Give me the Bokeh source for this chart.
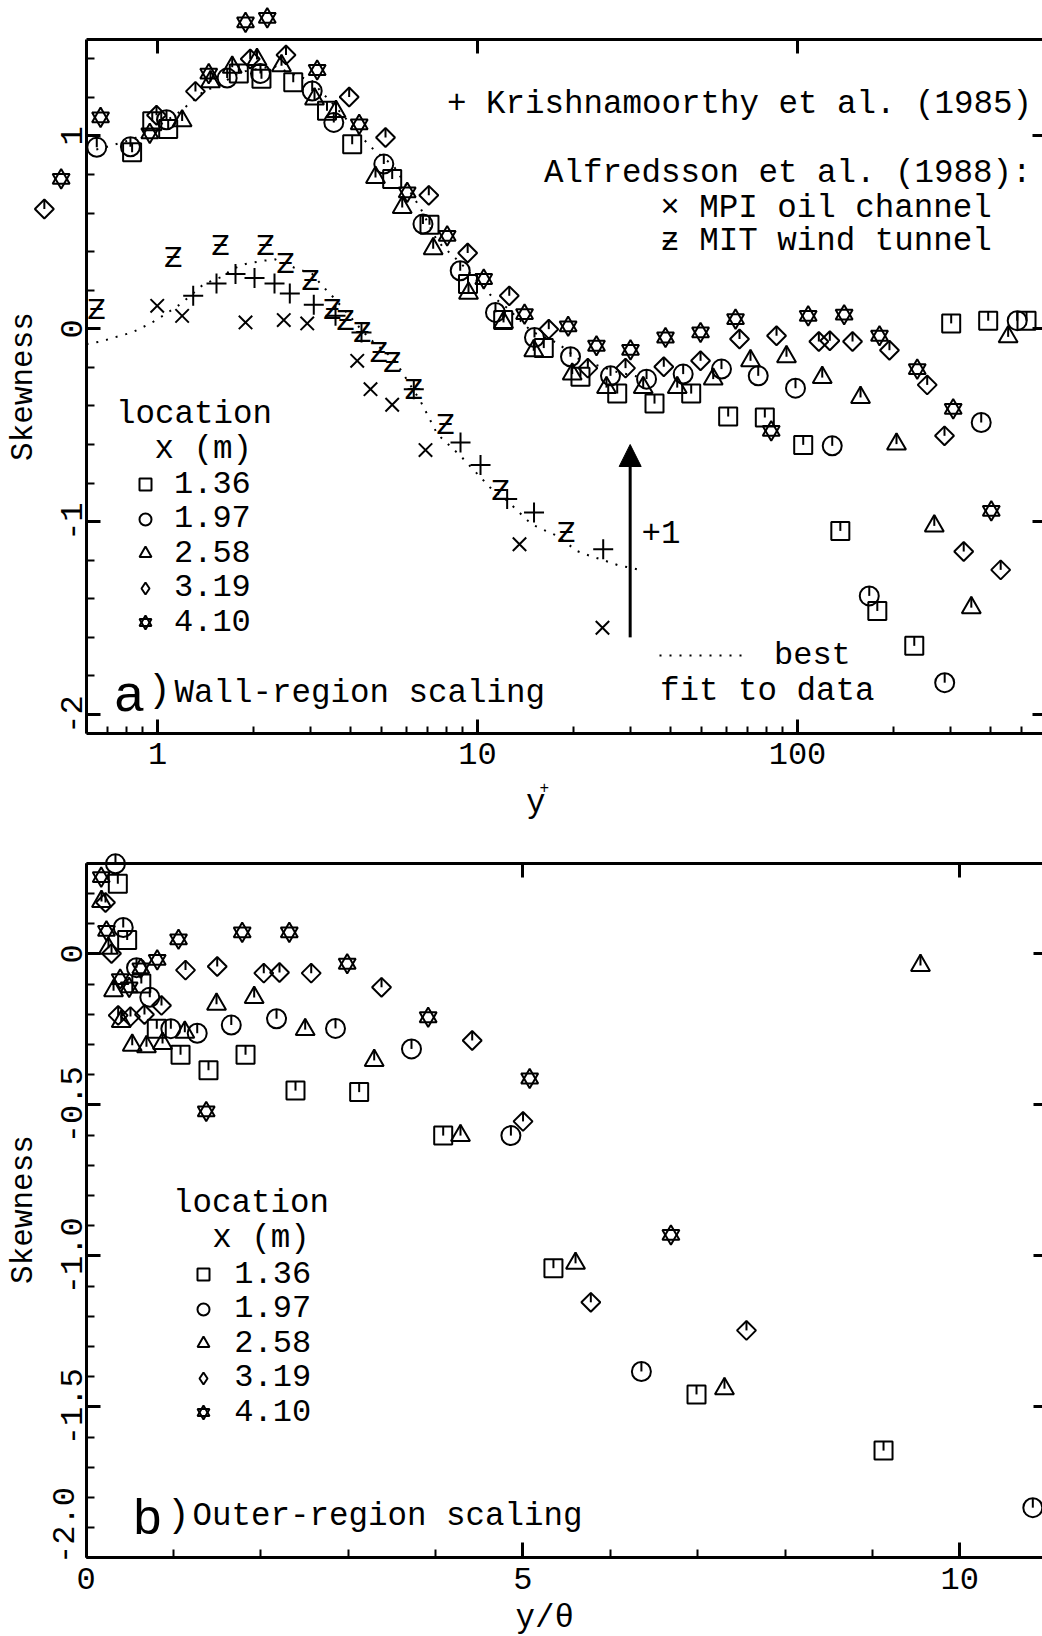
import math
from bokeh.plotting import figure
from bokeh.models import (Range1d, LinearAxis, FixedTicker, Label, Legend,
                          LegendItem, Arrow, NormalHead)
from bokeh.layouts import column
from bokeh.embed import file_html
from bokeh.resources import INLINE
from bokeh.core.properties import value

# ---------------- data: panel a) wall-region scaling (y+) ----------------
sq_yp = [0.833, 0.963, 1.08, 1.795, 2.113, 2.656, 3.386, 4.059, 5.413, 7.079, 9.34, 12.03, 16.11,
         20.98, 27.33, 35.74, 46.54, 60.73, 79.05, 104.2, 136.1, 177.6, 231.7, 302.2, 394.4, 519.6]
sq_sk = [0.915, 1.076, 1.036, 1.324, 1.297, 1.278, 1.131, 0.957, 0.777, 0.540, 0.232, 0.045, -0.100,
         -0.249, -0.336, -0.388, -0.336, -0.455, -0.460, -0.602, -1.048, -1.463, -1.644, 0.028, 0.042, 0.042]

ci_yp = [0.646, 0.823, 1.067, 1.651, 2.098, 3.044, 3.556, 5.096, 6.755, 8.831, 11.38, 15.07, 19.53,
         26.04, 33.75, 43.93, 57.87, 75.39, 98.57, 128.4, 167.6, 288.4, 375.1, 486.0]
ci_sk = [0.941, 0.944, 1.084, 1.300, 1.324, 1.233, 1.070, 0.854, 0.543, 0.301, 0.085, -0.045, -0.145,
         -0.244, -0.261, -0.235, -0.209, -0.244, -0.308, -0.607, -1.385, -1.835, -0.486, 0.042]

tr_yp = [1.194, 1.464, 1.712, 2.046, 2.441, 3.095, 3.613, 4.80, 5.818, 7.27, 9.374, 12.06, 14.99,
         19.77, 25.3, 32.95, 42.09, 54.53, 71.31, 92.39, 119.5, 157.4, 203.9, 267.6, 349.3, 455.3]
tr_sk = [1.078, 1.281, 1.356, 1.396, 1.364, 1.192, 1.127, 0.785, 0.629, 0.415, 0.184, 0.033, -0.114,
         -0.235, -0.305, -0.305, -0.305, -0.261, -0.166, -0.145, -0.253, -0.356, -0.598, -1.022, -1.446, -0.042]

di_yp = [0.443, 0.993, 1.314, 1.949, 2.521, 3.972, 5.159, 7.044, 9.318, 12.57, 16.7, 22.12, 29.01,
         38.21, 49.78, 65.89, 86.0, 116.6, 126.2, 148.6, 193.8, 254.3, 288.0, 330.7, 431.5]
di_sk = [0.621, 1.107, 1.231, 1.399, 1.420, 1.202, 0.992, 0.692, 0.393, 0.171, -0.002, -0.204, -0.204,
         -0.197, -0.166, -0.053, -0.036, -0.066, -0.062, -0.066, -0.111, -0.291, -0.555, -1.155, -1.250]

st_yp = [0.500, 0.664, 0.946, 1.446, 1.884, 2.203, 3.155, 4.269, 6.031, 8.04, 10.46, 14.03, 19.2,
         23.54, 30.07, 38.68, 49.78, 64.03, 82.78, 108.0, 139.9, 180.4, 236.7, 306.6, 403.3]
st_sk = [0.777, 1.096, 1.013, 1.323, 1.589, 1.612, 1.342, 1.060, 0.707, 0.482, 0.258, 0.076, 0.013,
         -0.088, -0.109, -0.045, -0.019, 0.050, -0.529, 0.067, 0.073, -0.036, -0.209, -0.415, -0.944]

kr_yp = [1.293, 1.529, 1.753, 2.01, 2.321, 2.591, 3.079, 3.60, 4.34, 6.323, 8.85, 10.22, 12.38, 15.02, 24.71]
kr_sk = [0.171, 0.235, 0.284, 0.263, 0.235, 0.183, 0.125, 0.067, -0.019, -0.313, -0.590, -0.706, -0.883, -0.953, -1.143]

mpi_yp = [0.998, 1.194, 1.884, 2.481, 2.937, 4.209, 4.631, 5.413, 6.879, 13.53, 24.58]
mpi_sk = [0.119, 0.067, 0.033, 0.045, 0.028, -0.166, -0.313, -0.394, -0.629, -1.117, -1.550]

mit_yp = [0.645, 1.12, 1.574, 2.175, 2.512, 3.007, 3.516, 3.868, 4.362, 4.916, 5.413, 6.323, 7.943, 11.8, 18.93]
mit_sk = [0.102, 0.370, 0.431, 0.431, 0.336, 0.249, 0.102, 0.045, -0.019, -0.123, -0.175, -0.313, -0.494, -0.840, -1.057]

fit_yp = [0.6, 0.664, 0.766, 0.833, 0.896, 0.963, 1.039, 1.18, 1.284, 1.395, 1.592, 1.712, 1.884, 2.147,
          2.335, 2.667, 3.044, 3.27, 3.47, 3.824, 4.36, 4.74, 5.477, 6.63, 7.49, 8.85, 10.95, 12.39,
          14.74, 15.92, 17.78, 20.44, 22.5, 24.27, 27.87, 30.0, 32.3]
fit_sk = [-0.08, -0.066, -0.036, -0.019, 0.007, 0.033, 0.067, 0.128, 0.18, 0.232, 0.27, 0.31, 0.336, 0.353,
          0.36, 0.318, 0.284, 0.223, 0.18, 0.102, -0.01, -0.071, -0.157, -0.374, -0.546, -0.659, -0.823, -0.892,
          -1.013, -1.039, -1.074, -1.152, -1.178, -1.195, -1.229, -1.238, -1.252]
fit_shift = 1.0   # the "+1" shift shown by the arrow

# ---------------- data: panel b) outer-region scaling (y/theta) ----------------
sq_yt = [0.362, 0.469, 0.631, 0.808, 1.080, 1.400, 1.824, 2.396, 3.125, 4.087, 5.349, 6.987, 9.128]
sq_sb = [0.232, 0.046, -0.098, -0.248, -0.334, -0.386, -0.334, -0.453, -0.458, -0.602, -1.041, -1.459, -1.645]

ci_yt = [0.335, 0.424, 0.576, 0.728, 0.969, 1.271, 1.661, 2.179, 2.854, 3.724, 4.862, 6.356, 10.837]
ci_sb = [0.298, 0.087, -0.046, -0.144, -0.248, -0.263, -0.236, -0.215, -0.247, -0.315, -0.602, -1.383, -1.834]

tr_yt = [0.175, 0.255, 0.313, 0.401, 0.527, 0.690, 0.874, 1.129, 1.492, 1.923, 2.507, 3.297, 4.285,
         5.602, 7.307, 9.551]
tr_sb = [0.173, 0.018, -0.122, -0.224, -0.303, -0.308, -0.297, -0.260, -0.167, -0.145, -0.251, -0.353, -0.602,
         -1.025, -1.440, -0.039]

di_yt = [0.221, 0.290, 0.366, 0.507, 0.667, 0.862, 1.137, 1.500, 2.033, 2.213, 2.576, 3.381, 4.419,
         5.001, 5.777, 7.559]
di_sb = [0.170, 0.001, -0.204, -0.208, -0.201, -0.171, -0.054, -0.042, -0.064, -0.062, -0.064, -0.111, -0.287,
         -0.555, -1.154, -1.247]

st_yt = [0.172, 0.232, 0.389, 0.492, 0.625, 0.813, 1.057, 1.786, 2.325, 2.988, 3.915, 5.077, 1.374, 6.694]
st_sb = [0.254, 0.076, -0.084, -0.111, -0.048, -0.020, 0.048, 0.071, 0.071, -0.033, -0.210, -0.413, -0.522, -0.931]

# tick labels
a_xticks = [1, 10, 100]
a_xlabels = ["1", "10", "100"]
a_yticks = [-2, -1, 0, 1]
a_ylabels = ["-2", "-1", "0", "1"]
b_xticks = [0, 5, 10]
b_xlabels = ["0", "5", "10"]
b_yticks = [-2.0, -1.5, -1.0, -0.5, 0.0]
b_ylabels = ["-2.0", "-1.5", "-1.0", "-0.5", "0"]
loc_labels = ["1.36", "1.97", "2.58", "3.19", "4.10"]

# ---------------- layout constants ----------------
MONO = "Liberation Mono"
SANS = "Liberation Sans"
TXT = "32.5px"
W, H1, H2 = 1042, 822, 814
TOP2 = H1            # page y where panel b starts
LW = 2
BASE_FIX = 9         # label baseline correction (px)
ROW_H = 37           # height of one legend row
ROW_PITCH = 34.6     # vertical pitch of legend rows

# panel a geometry: log x, 320 px per decade, box left (x=0.6) at px 86; y 192.86 px/unit, y=1.5 at px 39
A_X0, A_X1 = 0.6, 600.0
A_Y0, A_Y1 = -2.1, 1.5
ax_start = A_X0 * 10 ** (-86 / 320)
ax_end = A_X0 * 10 ** ((W - 86) / 320)
ay_end = A_Y1 + 39 / 192.86
ay_start = A_Y1 - (H1 - 39) / 192.86

# panel b geometry: linear x, 87.35 px/unit, x=0 at px 85.7; y 302 px/unit, y=0.3 at page px 862.7
B_X0, B_X1 = 0.0, 11.0
B_Y0, B_Y1 = -2.0, 0.3
btop = 862.7 - TOP2
bx_start = B_X0 - 85.7 / 87.35
bx_end = B_X0 + (W - 85.7) / 87.35
by_end = B_Y1 + btop / 302
by_start = B_Y1 - (H2 - btop) / 302


def make_axis(loc, bounds, ticks, minors, major_in, minor_in, labels=None, line=True,
              orientation=None, standoff=4):
    ax = LinearAxis(fixed_location=loc, bounds=bounds,
                    ticker=FixedTicker(ticks=ticks, minor_ticks=minors))
    ax.axis_line_width = 3
    ax.axis_line_color = "black" if line else None
    ax.major_tick_in = major_in
    ax.major_tick_out = 0
    ax.minor_tick_in = minor_in
    ax.minor_tick_out = 0
    ax.major_tick_line_width = 3
    ax.minor_tick_line_width = 2
    ax.major_tick_line_color = "black"
    ax.minor_tick_line_color = "black"
    ax.major_label_text_font = MONO
    ax.major_label_text_font_size = "32px"
    ax.major_label_standoff = standoff
    if labels is None:
        ax.major_label_text_color = None
    else:
        ax.major_label_text_color = "black"
        ax.major_label_overrides = labels
    if orientation is not None:
        ax.major_label_orientation = orientation
    return ax


def add_text(p, H, x, ybase, text, size=TXT, font=MONO, angle=0.0, align="left"):
    p.add_layout(Label(x=x, y=H - ybase + BASE_FIX, x_units="screen", y_units="screen", text=text,
                       text_font=font, text_font_size=size, text_color="black",
                       text_align=align, text_baseline="alphabetic", angle=angle))


def add_vtext(p, H, x, ycenter, text, size=TXT):
    # rotated text (reads bottom-to-top); x is tuned for the ink centre
    p.add_layout(Label(x=x, y=H - ycenter, x_units="screen", y_units="screen", text=text,
                       text_font=MONO, text_font_size=size, text_color="black",
                       text_align="center", text_baseline="alphabetic", angle=math.pi / 2))


def draw_locations(p, xs_list, ys_list, sizes):
    (sqx, cix, trx, dix, stx) = xs_list
    (sqy, ciy, try_, diy, sty) = ys_list
    kw = dict(fill_color=None, line_color="black", line_width=LW)
    r_sq = p.scatter(sqx, sqy, marker="square", size=sizes["sq"], **kw)
    p.ray(sqx, sqy, length=sizes["sq"] / 2, length_units="screen", angle=math.pi / 2,
          line_color="black", line_width=LW)
    r_ci = p.scatter(cix, ciy, marker="circle", size=sizes["ci"], **kw)
    p.ray(cix, ciy, length=sizes["ci"] / 2, length_units="screen", angle=math.pi / 2,
          line_color="black", line_width=LW)
    r_tr = p.scatter(trx, try_, marker="triangle", size=sizes["tr"], **kw)
    p.ray(trx, try_, length=sizes["tr"] / math.sqrt(3), length_units="screen", angle=math.pi / 2,
          line_color="black", line_width=LW)
    p.scatter(dix, diy, marker="square", angle=math.pi / 4, size=sizes["di"], **kw)
    p.ray(dix, diy, length=sizes["di"] / math.sqrt(2), length_units="screen", angle=math.pi / 2,
          line_color="black", line_width=LW)
    r_di_leg = p.scatter(dix, diy, marker="diamond", size=0, **kw)
    r_st1 = p.scatter(stx, sty, marker="triangle", size=sizes["st"], **kw)
    r_st2 = p.scatter(stx, sty, marker="inverted_triangle", size=sizes["st"], **kw)
    return [[r_sq], [r_ci], [r_tr], [r_di_leg], [r_st1, r_st2]]


def style_legend(lg, glyph_w, standoff):
    lg.label_text_font = MONO
    lg.label_text_font_size = "32px"
    lg.label_text_color = "black"
    lg.border_line_color = None
    lg.background_fill_alpha = 0
    lg.padding = 0
    lg.margin = 0
    lg.spacing = 0
    lg.glyph_width = glyph_w
    lg.glyph_height = 34
    lg.label_height = 34
    lg.label_standoff = standoff


def add_loc_legend(p, H, renderer_groups, x, first_center, standoff):
    # one single-row legend per location so that the row pitch matches the figure
    for i, (lab, rs) in enumerate(zip(loc_labels, renderer_groups)):
        centre = first_center + ROW_PITCH * i
        lg = Legend(items=[LegendItem(label=value(lab), renderers=rs)],
                    location=(x, H - (centre + ROW_H / 2)))
        style_legend(lg, 30, standoff)
        p.add_layout(lg)


SIZES = {"sq": 18, "ci": 19, "tr": 19, "di": 13.4, "st": 17}

# =============================== panel a ===============================
p1 = figure(width=W, height=H1, x_axis_type="log",
            x_range=Range1d(ax_start, ax_end), y_range=Range1d(ay_start, ay_end),
            x_axis_location=None, y_axis_location=None,
            output_backend="svg", toolbar_location=None, min_border=0)
p1.outline_line_color = None
p1.grid.visible = False

a_minor_x = [m * d for d in (0.1, 1, 10, 100) for m in range(2, 10) if A_X0 <= m * d <= A_X1]
a_minor_y = [round(-2.0 + 0.2 * i, 1) for i in range(18)]
p1.add_layout(make_axis(A_X0, (A_Y0, A_Y1), a_yticks, a_minor_y, 14, 8,
                        labels=dict(zip(a_yticks, a_ylabels)), orientation="vertical", standoff=4), "left")
p1.add_layout(make_axis(A_Y0, (A_X0, A_X1), a_xticks, a_minor_x, 14, 7,
                        labels=dict(zip(a_xticks, a_xlabels)), standoff=9), "below")
p1.add_layout(make_axis(A_Y1, (A_X0, A_X1), a_xticks, [], 14, 0), "above")
p1.add_layout(make_axis(A_X1, (A_Y0, A_Y1), a_yticks, [], 14, 0, line=False), "right")

# best fit (dotted), lower and shifted by +1
r_fit = p1.line(fit_yp, fit_sk, line_color="black", line_width=2, line_dash="2 8")
p1.line(fit_yp, [v + fit_shift for v in fit_sk], line_color="black", line_width=2, line_dash="2 8")

groups_a = draw_locations(p1, (sq_yp, ci_yp, tr_yp, di_yp, st_yp),
                          (sq_sk, ci_sk, tr_sk, di_sk, st_sk), SIZES)

p1.scatter(kr_yp, kr_sk, marker="cross", size=20, line_color="black", line_width=LW)
p1.scatter(mpi_yp, mpi_sk, marker="x", size=19, line_color="black", line_width=LW)
p1.text(mit_yp, mit_sk, text=["\u01b5"] * len(mit_yp), text_font=value("DejaVu Sans"),
        text_font_size="27px", text_align="center", text_baseline="middle", text_color="black")

p1.add_layout(Arrow(end=NormalHead(size=22, fill_color="black", line_color="black", line_width=1),
                    x_start=30, y_start=-1.6, x_end=30, y_end=-0.6,
                    line_color="black", line_width=3))

add_loc_legend(p1, H1, groups_a, 130, 484.0, 14)

fit_leg = Legend(items=[LegendItem(label=value("best"), renderers=[r_fit])],
                 location=(659, H1 - (655 + ROW_H / 2)))
style_legend(fit_leg, 90, 25)
p1.add_layout(fit_leg)

add_text(p1, H1, 446.4, 113.3, "+ Krishnamoorthy et al. (1985)")
add_text(p1, H1, 543.5, 181.7, "Alfredsson et al. (1988):")
add_text(p1, H1, 659.8, 216.7, "\u00d7 MPI oil channel")
add_text(p1, H1, 659.8, 250.0, "\u01b6 MIT wind tunnel")
add_text(p1, H1, 115.5, 423.3, "location")
add_text(p1, H1, 154.0, 458.3, "x (m)")
add_text(p1, H1, 114.0, 701.7, "a", size="52px", font=SANS)
add_text(p1, H1, 147.6, 699.0, ")", size="38px")
add_text(p1, H1, 174.0, 701.7, "Wall-region scaling")
add_text(p1, H1, 659.5, 700.0, "fit to data")
add_text(p1, H1, 641.0, 540.0, "+1")
add_vtext(p1, H1, 22.6, 386.0, "Skewness", size="31px")
add_text(p1, H1, 525.5, 812.0, "y")
add_text(p1, H1, 539.0, 796.0, "+", size="16px")

# =============================== panel b ===============================
p2 = figure(width=W, height=H2,
            x_range=Range1d(bx_start, bx_end), y_range=Range1d(by_start, by_end),
            x_axis_location=None, y_axis_location=None,
            output_backend="svg", toolbar_location=None, min_border=0)
p2.outline_line_color = None
p2.grid.visible = False

b_minor_x = [1, 2, 3, 4, 6, 7, 8, 9]
b_minor_y = [round(-2.0 + 0.1 * i, 1) for i in range(24)]
b_ylab = dict(zip(b_yticks, b_ylabels))
b_ylab[-2.0] = ""
p2.add_layout(make_axis(B_X0, (B_Y0, B_Y1), b_yticks, b_minor_y, 14, 8,
                        labels=b_ylab, orientation="vertical", standoff=4), "left")
p2.add_layout(make_axis(B_Y0, (B_X0, B_X1), b_xticks, b_minor_x, 15, 8,
                        labels=dict(zip(b_xticks, b_xlabels)), standoff=10), "below")
p2.add_layout(make_axis(B_Y1, (B_X0, B_X1), b_xticks, [], 14, 0), "above")
p2.add_layout(make_axis(B_X1, (B_Y0, B_Y1), b_yticks, [], 14, 0, line=False), "right")

groups_b = draw_locations(p2, (sq_yt, ci_yt, tr_yt, di_yt, st_yt),
                          (sq_sb, ci_sb, tr_sb, di_sb, st_sb), SIZES)
add_loc_legend(p2, H2, groups_b, 188.3, 1274.0 - TOP2, 16)

add_text(p2, H2, 172.5, 1212.0 - TOP2, "location")
add_text(p2, H2, 211.8, 1246.7 - TOP2, "x (m)")
add_text(p2, H2, 133.0, 1525.0 - TOP2, "b", size="50px", font=SANS)
add_text(p2, H2, 166.6, 1524.0 - TOP2, ")", size="38px")
add_text(p2, H2, 192.0, 1525.0 - TOP2, "Outer-region scaling")
add_vtext(p2, H2, 22.6, 1209.0 - TOP2, "Skewness", size="31px")
add_text(p2, H2, 515.0, 1627.0 - TOP2, "y/\u03b8")
add_vtext(p2, H2, 62.6, 1525.0 - TOP2, "-2.0", size="32px")

page = column(p1, p2)
open("out.html", "w").write(file_html(page, INLINE))
